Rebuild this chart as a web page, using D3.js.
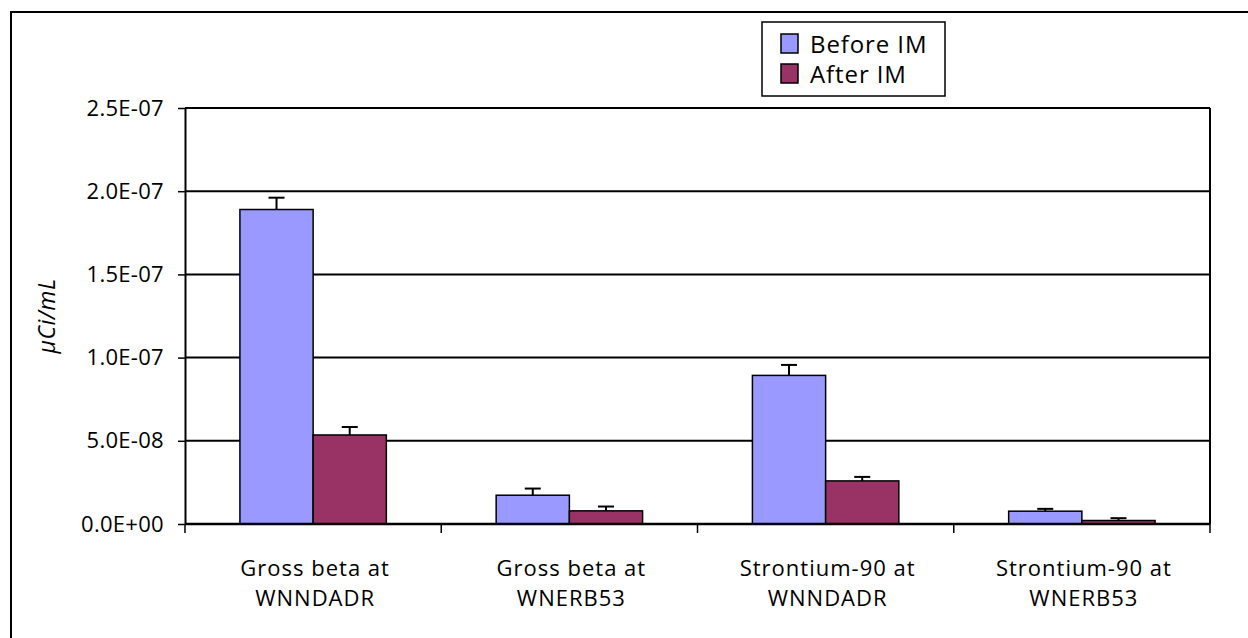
<!DOCTYPE html>
<html>
<head>
<meta charset="utf-8">
<script src="https://cdn.jsdelivr.net/npm/d3@7"></script>
<style>
  html, body { margin: 0; padding: 0; background: #fff; }
  svg { display: block; }
  text { font-family: "Open Sans", "Noto Sans", sans-serif; fill: #000; }
</style>
</head>
<body>
<svg id="chart" width="1248" height="638"></svg>
<script>
// ---- data ----
const categories = ["Gross beta at WNNDADR", "Gross beta at WNERB53", "Strontium-90 at WNNDADR", "Strontium-90 at WNERB53"];
const categoryLines = [["Gross beta at", "WNNDADR"], ["Gross beta at", "WNERB53"], ["Strontium-90 at", "WNNDADR"], ["Strontium-90 at", "WNERB53"]];
const seriesNames = ["Before IM", "After IM"];
const beforeIM = [1.89e-7, 1.73e-8, 8.93e-8, 7.7e-9];
const afterIM = [5.35e-8, 7.9e-9, 2.59e-8, 2.1e-9];
const beforeErr = [7.1e-9, 4.0e-9, 6.3e-9, 1.4e-9];
const afterErr = [4.8e-9, 2.6e-9, 2.4e-9, 1.4e-9];
const yTicks = [0, 5e-8, 1e-7, 1.5e-7, 2e-7, 2.5e-7];
const yTickLabels = ["0.0E+00", "5.0E-08", "1.0E-07", "1.5E-07", "2.0E-07", "2.5E-07"];
const seriesColors = ["#9999FF", "#993366"];

(function () {
const svg = d3.select("#chart");

// outer chart border
svg.append("rect")
  .attr("x", 11).attr("y", 12).attr("width", 1260).attr("height", 660)
  .attr("fill", "none").attr("stroke", "#000").attr("stroke-width", 2);

const pLeft = 185, pRight = 1210, pTop = 108, pBottom = 524;

const x = d3.scaleBand().domain(categories).range([pLeft, pRight]).padding(0);
const xs = d3.scaleBand().domain(seriesNames).range([0, x.bandwidth()]).paddingInner(0).paddingOuter(0.75);
const y = d3.scaleLinear().domain([0, 2.5e-7]).range([pBottom, pTop]);

// gridlines
svg.append("g").selectAll("line").data(yTicks.slice(1)).join("line")
  .attr("x1", pLeft).attr("x2", pRight)
  .attr("y1", d => y(d)).attr("y2", d => y(d))
  .attr("stroke", "#000").attr("stroke-width", 2);

// right border of plot area
svg.append("line").attr("x1", pRight).attr("x2", pRight).attr("y1", pTop).attr("y2", pBottom)
  .attr("stroke", "#000").attr("stroke-width", 2);

// bars
const series = [
  { name: seriesNames[0], values: beforeIM, errs: beforeErr, color: seriesColors[0] },
  { name: seriesNames[1], values: afterIM, errs: afterErr, color: seriesColors[1] }
];
const rows = [];
series.forEach(s => s.values.forEach((v, i) => rows.push({ cat: categories[i], s: s.name, v, e: s.errs[i], color: s.color })));

const gBars = svg.append("g");
gBars.selectAll("rect").data(rows).join("rect")
  .attr("x", d => x(d.cat) + xs(d.s))
  .attr("y", d => y(d.v))
  .attr("width", xs.bandwidth())
  .attr("height", d => y(0) - y(d.v))
  .attr("fill", d => d.color)
  .attr("stroke", "#000").attr("stroke-width", 1.5);

// error bars (plus only)
const gErr = svg.append("g");
rows.forEach(d => {
  const cx = x(d.cat) + xs(d.s) + xs.bandwidth() / 2;
  gErr.append("line").attr("x1", cx).attr("x2", cx).attr("y1", y(d.v)).attr("y2", y(d.v + d.e))
    .attr("stroke", "#000").attr("stroke-width", 2);
  gErr.append("line").attr("x1", cx - 8).attr("x2", cx + 8).attr("y1", y(d.v + d.e)).attr("y2", y(d.v + d.e))
    .attr("stroke", "#000").attr("stroke-width", 2);
});

// y axis
const yAxis = d3.axisLeft(y).tickValues(yTicks).tickSizeOuter(0).tickSizeInner(7).tickPadding(14)
  .tickFormat((d, i) => yTickLabels[i]);
const gy = svg.append("g").attr("transform", `translate(${pLeft},0)`).call(yAxis);
gy.select(".domain").attr("stroke", "#000").attr("stroke-width", 2);
gy.selectAll(".tick line").attr("stroke", "#000").attr("stroke-width", 1.5);
gy.selectAll(".tick text").attr("font-size", 22).attr("fill", "#000")
  .attr("font-family", "'Open Sans', sans-serif").attr("letter-spacing", 0.3);

// x axis baseline & ticks at category boundaries
svg.append("line").attr("x1", pLeft).attr("x2", pRight).attr("y1", pBottom).attr("y2", pBottom)
  .attr("stroke", "#000").attr("stroke-width", 2.5);
const boundaries = categories.map(c => x(c)).concat([pRight]);
svg.append("g").selectAll("line").data(boundaries).join("line")
  .attr("x1", d => d).attr("x2", d => d).attr("y1", pBottom).attr("y2", pBottom + 9)
  .attr("stroke", "#000").attr("stroke-width", 1.5);

// category labels
const gCat = svg.append("g");
categories.forEach((c, i) => {
  const cx = x(c) + x.bandwidth() / 2 + 2;
  const t = gCat.append("text")
    .attr("text-anchor", "middle").attr("font-size", 22).attr("letter-spacing", 1);
  t.append("tspan").attr("x", cx).attr("y", 576).text(categoryLines[i][0]);
  t.append("tspan").attr("x", cx).attr("y", 606).text(categoryLines[i][1]);
});

// y axis title
svg.append("text")
  .attr("transform", `translate(55,${(pTop + pBottom) / 2}) rotate(-90)`)
  .attr("text-anchor", "middle").attr("font-size", 23).attr("font-style", "italic")
  .attr("letter-spacing", 0.5)
  .text("µCi/mL");

// legend
const lg = svg.append("g");
lg.append("rect").attr("x", 762).attr("y", 22).attr("width", 183).attr("height", 74)
  .attr("fill", "#fff").attr("stroke", "#000").attr("stroke-width", 1.5);
series.forEach((s, i) => {
  lg.append("rect").attr("x", 781).attr("y", 34 + i * 30).attr("width", 17).attr("height", 19)
    .attr("fill", s.color).attr("stroke", "#000").attr("stroke-width", 1.5);
  lg.append("text").attr("x", 810).attr("y", 53 + i * 30).attr("font-size", 24).attr("letter-spacing", 0.9)
    .text(s.name);
});
})();
</script>
</body>
</html>
